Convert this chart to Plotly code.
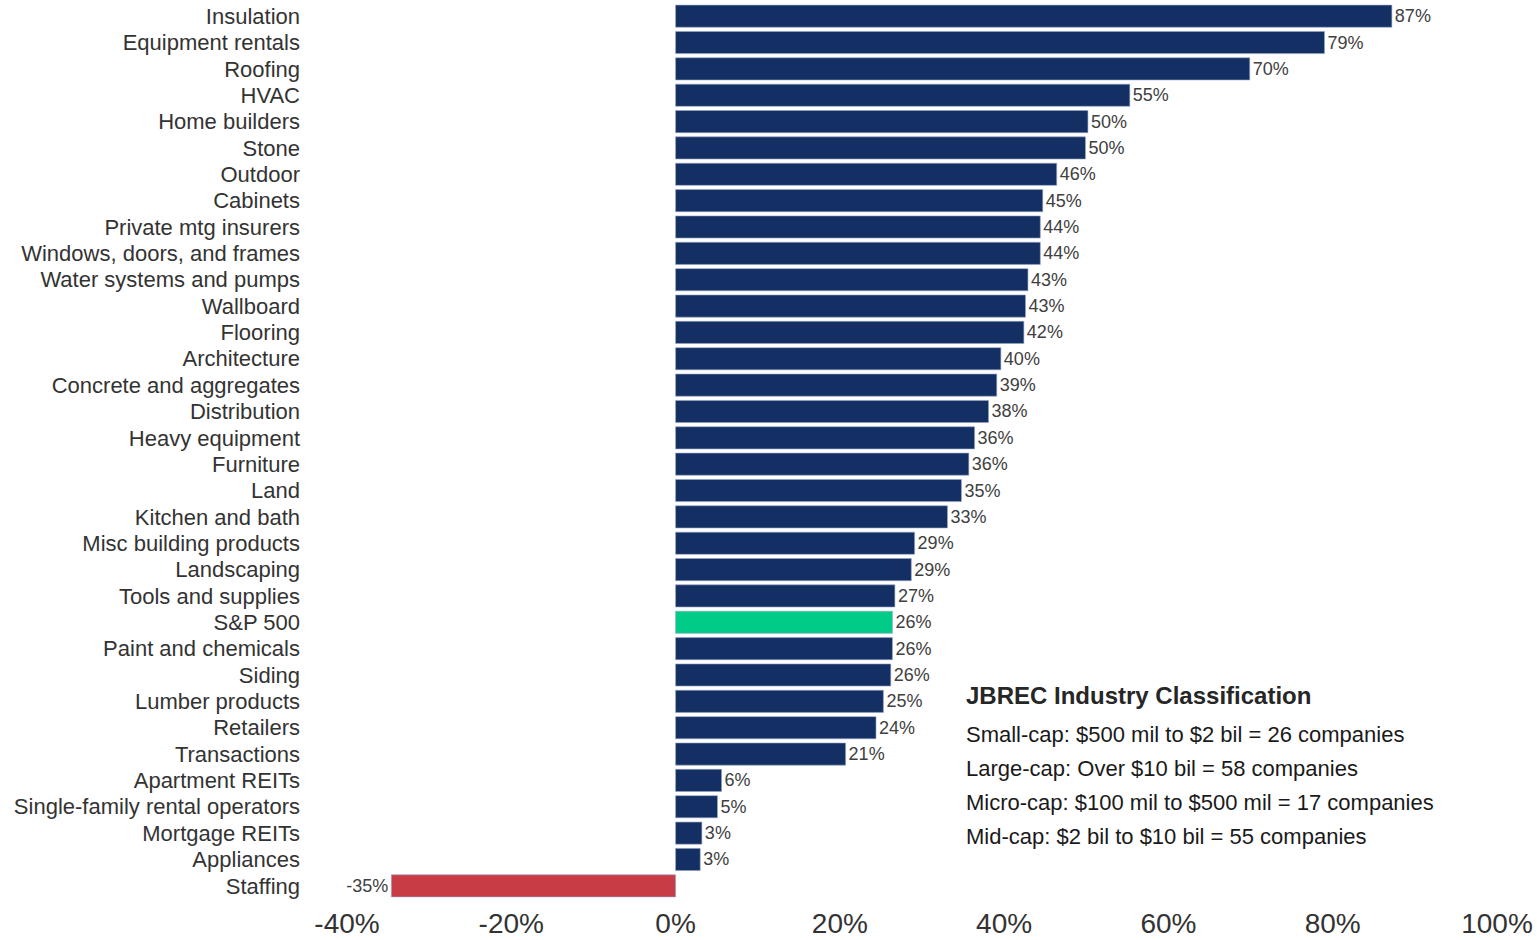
import plotly.graph_objects as go

# Segment performance, top to bottom
categories = [
    "Insulation", "Equipment rentals", "Roofing", "HVAC", "Home builders",
    "Stone", "Outdoor", "Cabinets", "Private mtg insurers",
    "Windows, doors, and frames", "Water systems and pumps", "Wallboard",
    "Flooring", "Architecture", "Concrete and aggregates", "Distribution",
    "Heavy equipment", "Furniture", "Land", "Kitchen and bath",
    "Misc building products", "Landscaping", "Tools and supplies", "S&P 500",
    "Paint and chemicals", "Siding", "Lumber products", "Retailers",
    "Transactions", "Apartment REITs", "Single-family rental operators",
    "Mortgage REITs", "Appliances", "Staffing",
]
returns = [
    0.872, 0.790, 0.699, 0.553, 0.502,
    0.499, 0.464, 0.447, 0.444,
    0.444, 0.429, 0.426,
    0.424, 0.396, 0.391, 0.381,
    0.364, 0.357, 0.348, 0.331,
    0.291, 0.287, 0.267, 0.264,
    0.264, 0.262, 0.253, 0.244,
    0.207, 0.056, 0.051,
    0.032, 0.030, -0.346,
]

x_ticks = [-0.4, -0.2, 0.0, 0.2, 0.4, 0.6, 0.8, 1.0]
x_tick_labels = ["-40%", "-20%", "0%", "20%", "40%", "60%", "80%", "100%"]

legend_title = "JBREC Industry Classification"
legend_lines = [
    "Small-cap: $500 mil to $2 bil = 26 companies",
    "Large-cap: Over $10 bil = 58 companies",
    "Micro-cap: $100 mil to $500 mil = 17 companies",
    "Mid-cap: $2 bil to $10 bil = 55 companies",
]

NAVY = "#132f63"
GREEN = "#00cc88"
RED = "#c83c45"
FONT = "Liberation Sans, Arial, sans-serif"

colors = []
for c, v in zip(categories, returns):
    if c == "S&P 500":
        colors.append(GREEN)
    elif v < 0:
        colors.append(RED)
    else:
        colors.append(NAVY)

# value labels with a plain hyphen for negatives
value_labels = [("-" if v < 0 else "") + f"{abs(v) * 100:.0f}%" for v in returns]

fig = go.Figure(
    go.Bar(
        y=categories,
        x=returns,
        orientation="h",
        marker=dict(color=colors, line=dict(color="rgba(150,165,195,0.6)", width=1)),
        text=value_labels,
        textposition="outside",
        textfont=dict(family=FONT, size=18, color="#404040"),
        constraintext="none",
        cliponaxis=False,
        hoverinfo="skip",
    )
)

fig.update_yaxes(
    categoryorder="array",
    categoryarray=categories,
    autorange="reversed",
    showgrid=False,
    zeroline=False,
    showline=False,
    ticks="",
    automargin=False,
    ticklabelstandoff=46,
    tickfont=dict(family=FONT, size=22, color="#333333"),
)
fig.update_xaxes(
    range=[-0.4, 1.0],
    tickvals=x_ticks,
    ticktext=x_tick_labels,
    showgrid=False,
    zeroline=False,
    showline=False,
    ticks="",
    automargin=False,
    ticklabelstandoff=5,
    tickfont=dict(family=FONT, size=28, color="#333333"),
)

annotations = [
    dict(
        text="<b>" + legend_title + "</b>",
        xref="x", yref="paper", x=0.351, y=0.2274,
        xanchor="left", yanchor="middle", showarrow=False,
        font=dict(family=FONT, size=24, color="#262626"),
    )
]
for i, line in enumerate(legend_lines):
    annotations.append(
        dict(
            text=line,
            xref="x", yref="paper", x=0.351, y=0.1839 - i * 0.03795,
            xanchor="left", yanchor="middle", showarrow=False,
            font=dict(family=FONT, size=22, color="#1a1a1a"),
        )
    )

fig.update_layout(
    width=1537,
    height=940,
    margin=dict(l=347, r=40, t=3, b=41),
    bargap=0.16,
    plot_bgcolor="white",
    paper_bgcolor="white",
    showlegend=False,
    annotations=annotations,
)

fig.write_html("out.html")
